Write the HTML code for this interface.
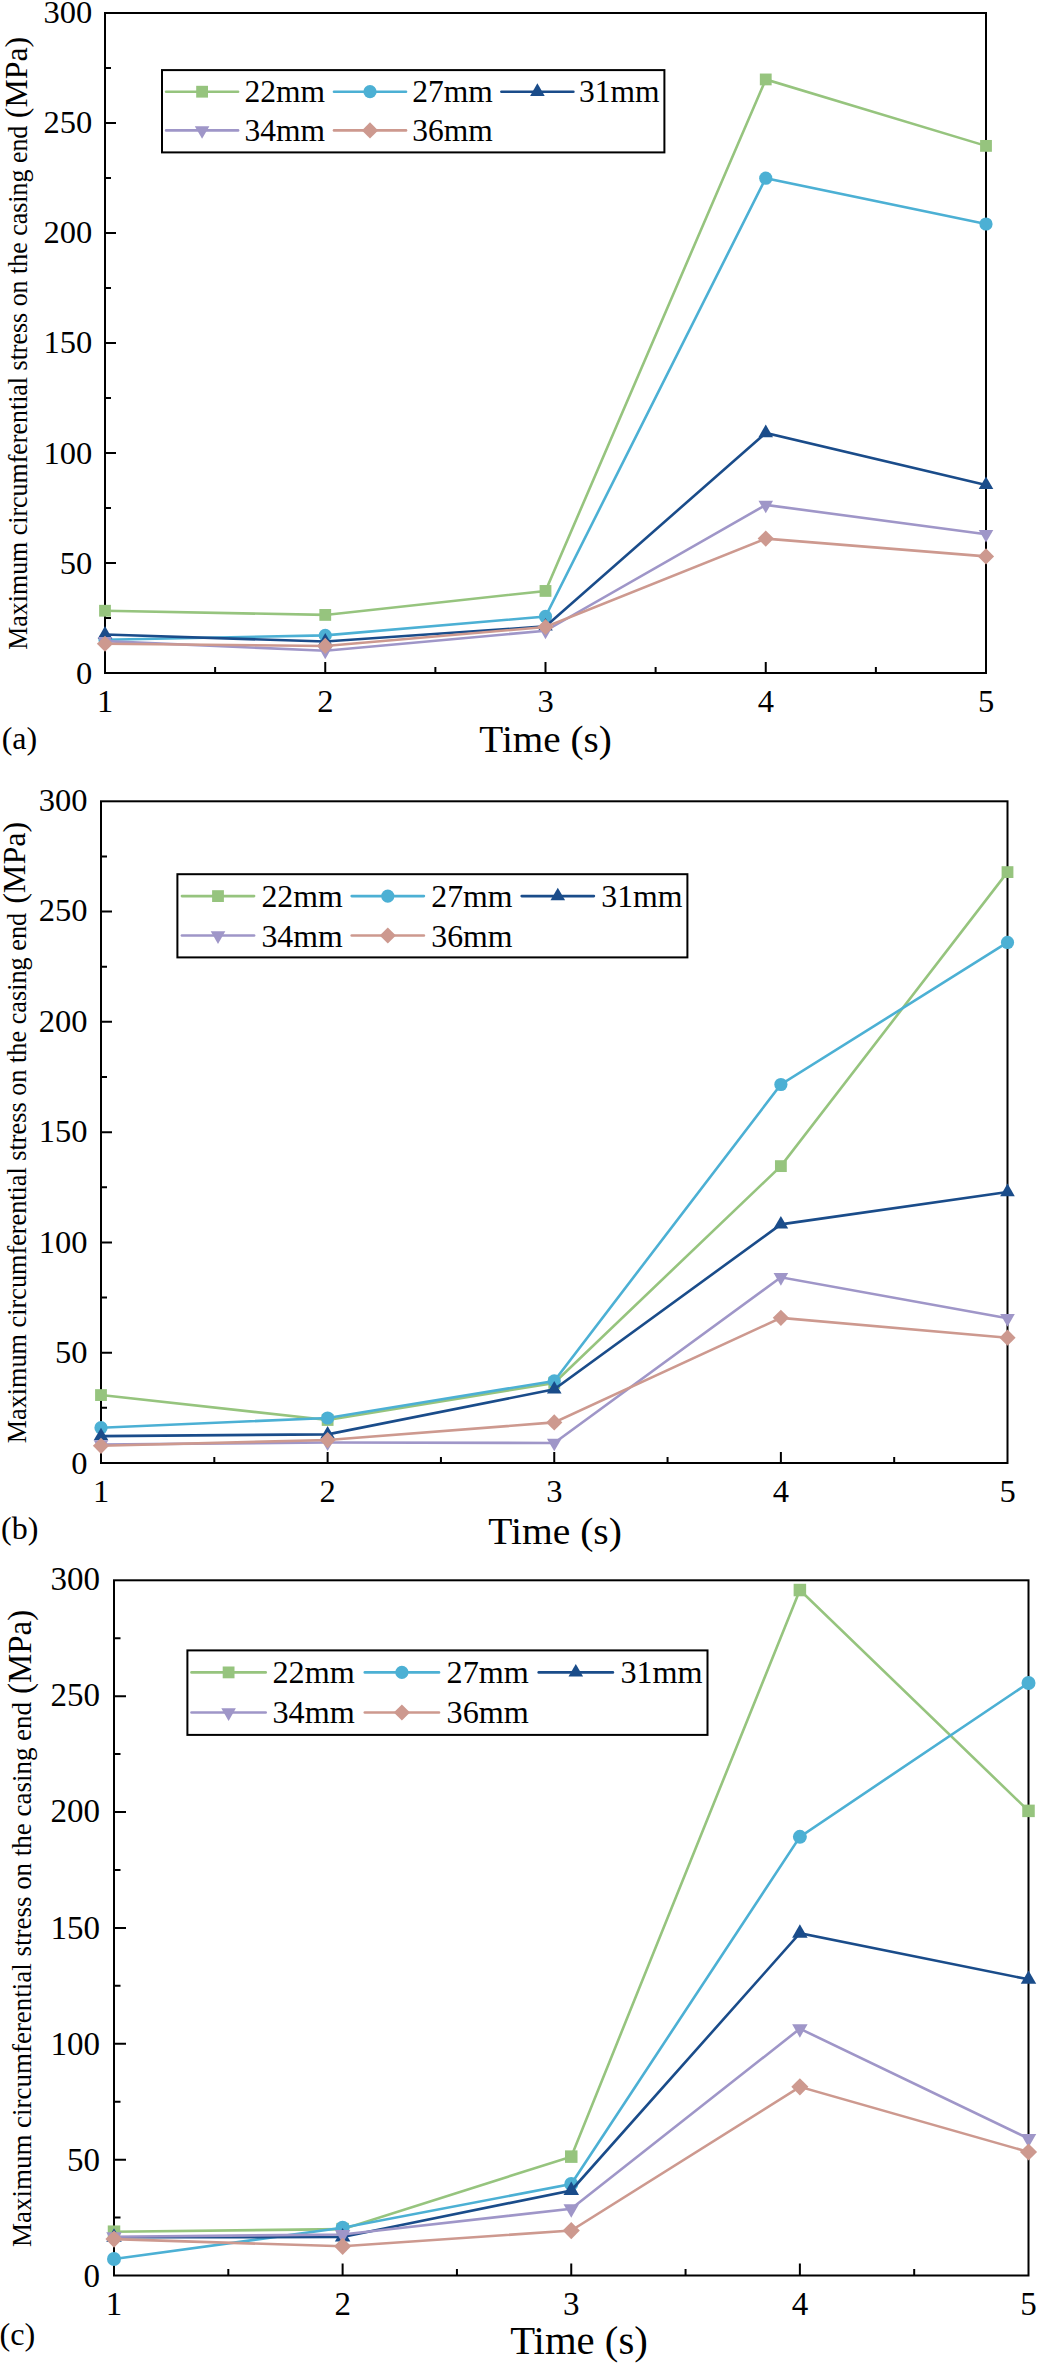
<!DOCTYPE html>
<html><head><meta charset="utf-8"><style>
html,body{margin:0;padding:0;background:#fff;overflow:hidden;width:1038px;height:2363px;}
svg{display:block;}
text{font-family:"Liberation Serif", serif;fill:#000;}
</style></head><body>
<svg width="1038" height="2363" viewBox="0 0 1038 2363">
<rect width="1038" height="2363" fill="#fff"/>
<g><rect x="105" y="13" width="881" height="660" fill="none" stroke="#000" stroke-width="2"/>
<path d="M105 618h6M105 563h11M105 508h6M105 453h11M105 398h6M105 343h11M105 288h6M105 233h11M105 178h6M105 123h11M105 68h6M215.12 673v-6M325.25 673v-11M435.38 673v-6M545.5 673v-11M655.62 673v-6M765.75 673v-11M875.88 673v-6" stroke="#000" stroke-width="2" fill="none"/>
<polyline points="105,610.74 325.25,614.92 545.5,590.94 765.75,79.44 986,145.88" fill="none" stroke="#96C47E" stroke-width="2.6" stroke-linejoin="miter"/>
<rect x="99.1" y="604.84" width="11.8" height="11.8" fill="#96C47E"/>
<rect x="319.35" y="609.02" width="11.8" height="11.8" fill="#96C47E"/>
<rect x="539.6" y="585.04" width="11.8" height="11.8" fill="#96C47E"/>
<rect x="759.85" y="73.54" width="11.8" height="11.8" fill="#96C47E"/>
<rect x="980.1" y="139.98" width="11.8" height="11.8" fill="#96C47E"/>
<polyline points="105,639.78 325.25,635.38 545.5,616.46 765.75,178.22 986,223.98" fill="none" stroke="#4CB0D4" stroke-width="2.6" stroke-linejoin="miter"/>
<circle cx="105" cy="639.78" r="6.6" fill="#4CB0D4"/>
<circle cx="325.25" cy="635.38" r="6.6" fill="#4CB0D4"/>
<circle cx="545.5" cy="616.46" r="6.6" fill="#4CB0D4"/>
<circle cx="765.75" cy="178.22" r="6.6" fill="#4CB0D4"/>
<circle cx="986" cy="223.98" r="6.6" fill="#4CB0D4"/>
<polyline points="105,634.5 325.25,641.54 545.5,626.36 765.75,432.98 986,484.9" fill="none" stroke="#1A4C8A" stroke-width="2.6" stroke-linejoin="miter"/>
<polygon points="105,626.07 112.3,638.71 97.7,638.71" fill="#1A4C8A"/>
<polygon points="325.25,633.11 332.55,645.75 317.95,645.75" fill="#1A4C8A"/>
<polygon points="545.5,617.93 552.8,630.57 538.2,630.57" fill="#1A4C8A"/>
<polygon points="765.75,424.55 773.05,437.19 758.45,437.19" fill="#1A4C8A"/>
<polygon points="986,476.47 993.3,489.11 978.7,489.11" fill="#1A4C8A"/>
<polyline points="105,641.1 325.25,650.78 545.5,630.76 765.75,504.92 986,534.18" fill="none" stroke="#9F96C8" stroke-width="2.6" stroke-linejoin="miter"/>
<polygon points="105,649.53 112.3,636.89 97.7,636.89" fill="#9F96C8"/>
<polygon points="325.25,659.21 332.55,646.57 317.95,646.57" fill="#9F96C8"/>
<polygon points="545.5,639.19 552.8,626.55 538.2,626.55" fill="#9F96C8"/>
<polygon points="765.75,513.35 773.05,500.71 758.45,500.71" fill="#9F96C8"/>
<polygon points="986,542.61 993.3,529.97 978.7,529.97" fill="#9F96C8"/>
<polyline points="105,643.74 325.25,645.94 545.5,627.02 765.75,538.58 986,556.4" fill="none" stroke="#CD998F" stroke-width="2.6" stroke-linejoin="miter"/>
<polygon points="105,635.64 113.1,643.74 105,651.84 96.9,643.74" fill="#CD998F"/>
<polygon points="325.25,637.84 333.35,645.94 325.25,654.04 317.15,645.94" fill="#CD998F"/>
<polygon points="545.5,618.92 553.6,627.02 545.5,635.12 537.4,627.02" fill="#CD998F"/>
<polygon points="765.75,530.48 773.85,538.58 765.75,546.68 757.65,538.58" fill="#CD998F"/>
<polygon points="986,548.3 994.1,556.4 986,564.5 977.9,556.4" fill="#CD998F"/>
<text x="92.2" y="683.95" font-size="32.5" text-anchor="end">0</text>
<text x="92.2" y="573.76" font-size="32.5" text-anchor="end">50</text>
<text x="92.2" y="463.57" font-size="32.5" text-anchor="end">100</text>
<text x="92.2" y="353.38" font-size="32.5" text-anchor="end">150</text>
<text x="92.2" y="243.18" font-size="32.5" text-anchor="end">200</text>
<text x="92.2" y="132.99" font-size="32.5" text-anchor="end">250</text>
<text x="92.2" y="22.8" font-size="32.5" text-anchor="end">300</text>
<text x="105.1" y="711.9" font-size="32.5" text-anchor="middle">1</text>
<text x="325.35" y="711.9" font-size="32.5" text-anchor="middle">2</text>
<text x="545.6" y="711.9" font-size="32.5" text-anchor="middle">3</text>
<text x="765.85" y="711.9" font-size="32.5" text-anchor="middle">4</text>
<text x="986.1" y="711.9" font-size="32.5" text-anchor="middle">5</text>
<text x="479.39" y="751.8" font-size="37.5" textLength="132.47" lengthAdjust="spacingAndGlyphs">Time (s)</text>
<text x="1.66" y="748.5" font-size="32">(a)</text>
<text transform="translate(26.9,649.73) rotate(-90)" font-size="27.5" textLength="524.04" lengthAdjust="spacingAndGlyphs">Maximum circumferential stress on the casing end</text>
<text transform="translate(26.7,118.14) rotate(-90)" font-size="31.8" textLength="81.31" lengthAdjust="spacingAndGlyphs">(MPa)</text>
<rect x="162" y="70.1" width="502.4" height="82.3" fill="#fff" stroke="#000" stroke-width="2"/>
<line x1="166.1" y1="91.7" x2="238.1" y2="91.7" stroke="#96C47E" stroke-width="2.6" stroke-linecap="round"/>
<rect x="196.2" y="85.8" width="11.8" height="11.8" fill="#96C47E"/>
<text x="244.41" y="101.8" font-size="31.5">22mm</text>
<line x1="334" y1="91.7" x2="406" y2="91.7" stroke="#4CB0D4" stroke-width="2.6" stroke-linecap="round"/>
<circle cx="370" cy="91.7" r="6.6" fill="#4CB0D4"/>
<text x="412.21" y="101.8" font-size="31.5">27mm</text>
<line x1="501.4" y1="91.7" x2="573.4" y2="91.7" stroke="#1A4C8A" stroke-width="2.6" stroke-linecap="round"/>
<polygon points="537.4,83.27 544.7,95.91 530.1,95.91" fill="#1A4C8A"/>
<text x="579.11" y="101.8" font-size="31.5">31mm</text>
<line x1="166.1" y1="130.4" x2="238.1" y2="130.4" stroke="#9F96C8" stroke-width="2.6" stroke-linecap="round"/>
<polygon points="202.1,138.83 209.4,126.19 194.8,126.19" fill="#9F96C8"/>
<text x="244.41" y="141.3" font-size="31.5">34mm</text>
<line x1="334" y1="130.4" x2="406" y2="130.4" stroke="#CD998F" stroke-width="2.6" stroke-linecap="round"/>
<polygon points="370,122.3 378.1,130.4 370,138.5 361.9,130.4" fill="#CD998F"/>
<text x="412.21" y="141.3" font-size="31.5">36mm</text></g>
<g><rect x="101" y="801.3" width="906.5" height="661.7" fill="none" stroke="#000" stroke-width="2"/>
<path d="M101 1407.86h6M101 1352.72h11M101 1297.58h6M101 1242.43h11M101 1187.29h6M101 1132.15h11M101 1077.01h6M101 1021.87h11M101 966.73h6M101 911.58h11M101 856.44h6M214.31 1463v-6M327.62 1463v-11M440.94 1463v-6M554.25 1463v-11M667.56 1463v-6M780.88 1463v-11M894.19 1463v-6" stroke="#000" stroke-width="2" fill="none"/>
<polyline points="101,1395.07 327.62,1419.99 554.25,1382.93 780.88,1166.12 1007.5,872.1" fill="none" stroke="#96C47E" stroke-width="2.6" stroke-linejoin="miter"/>
<rect x="95.1" y="1389.17" width="11.8" height="11.8" fill="#96C47E"/>
<rect x="321.73" y="1414.09" width="11.8" height="11.8" fill="#96C47E"/>
<rect x="548.35" y="1377.03" width="11.8" height="11.8" fill="#96C47E"/>
<rect x="774.98" y="1160.22" width="11.8" height="11.8" fill="#96C47E"/>
<rect x="1001.6" y="866.2" width="11.8" height="11.8" fill="#96C47E"/>
<polyline points="101,1427.71 327.62,1418 554.25,1380.95 780.88,1084.51 1007.5,942.46" fill="none" stroke="#4CB0D4" stroke-width="2.6" stroke-linejoin="miter"/>
<circle cx="101" cy="1427.71" r="6.6" fill="#4CB0D4"/>
<circle cx="327.62" cy="1418" r="6.6" fill="#4CB0D4"/>
<circle cx="554.25" cy="1380.95" r="6.6" fill="#4CB0D4"/>
<circle cx="780.88" cy="1084.51" r="6.6" fill="#4CB0D4"/>
<circle cx="1007.5" cy="942.46" r="6.6" fill="#4CB0D4"/>
<polyline points="101,1436.09 327.62,1434.33 554.25,1389.33 780.88,1224.35 1007.5,1191.92" fill="none" stroke="#1A4C8A" stroke-width="2.6" stroke-linejoin="miter"/>
<polygon points="101,1427.66 108.3,1440.31 93.7,1440.31" fill="#1A4C8A"/>
<polygon points="327.62,1425.9 334.93,1438.54 320.32,1438.54" fill="#1A4C8A"/>
<polygon points="554.25,1380.9 561.55,1393.55 546.95,1393.55" fill="#1A4C8A"/>
<polygon points="780.88,1215.92 788.17,1228.56 773.58,1228.56" fill="#1A4C8A"/>
<polygon points="1007.5,1183.49 1014.8,1196.14 1000.2,1196.14" fill="#1A4C8A"/>
<polyline points="101,1444.47 327.62,1442.49 554.25,1442.93 780.88,1277.28 1007.5,1318.31" fill="none" stroke="#9F96C8" stroke-width="2.6" stroke-linejoin="miter"/>
<polygon points="101,1452.9 108.3,1440.26 93.7,1440.26" fill="#9F96C8"/>
<polygon points="327.62,1450.92 334.93,1438.27 320.32,1438.27" fill="#9F96C8"/>
<polygon points="554.25,1451.36 561.55,1438.71 546.95,1438.71" fill="#9F96C8"/>
<polygon points="780.88,1285.71 788.17,1273.07 773.58,1273.07" fill="#9F96C8"/>
<polygon points="1007.5,1326.74 1014.8,1314.09 1000.2,1314.09" fill="#9F96C8"/>
<polyline points="101,1445.8 327.62,1440.06 554.25,1422.42 780.88,1317.87 1007.5,1337.72" fill="none" stroke="#CD998F" stroke-width="2.6" stroke-linejoin="miter"/>
<polygon points="101,1437.7 109.1,1445.8 101,1453.9 92.9,1445.8" fill="#CD998F"/>
<polygon points="327.62,1431.96 335.73,1440.06 327.62,1448.16 319.52,1440.06" fill="#CD998F"/>
<polygon points="554.25,1414.32 562.35,1422.42 554.25,1430.52 546.15,1422.42" fill="#CD998F"/>
<polygon points="780.88,1309.77 788.98,1317.87 780.88,1325.97 772.77,1317.87" fill="#CD998F"/>
<polygon points="1007.5,1329.62 1015.6,1337.72 1007.5,1345.82 999.4,1337.72" fill="#CD998F"/>
<text x="87.5" y="1473.95" font-size="32.5" text-anchor="end">0</text>
<text x="87.5" y="1363.38" font-size="32.5" text-anchor="end">50</text>
<text x="87.5" y="1252.82" font-size="32.5" text-anchor="end">100</text>
<text x="87.5" y="1142.25" font-size="32.5" text-anchor="end">150</text>
<text x="87.5" y="1031.68" font-size="32.5" text-anchor="end">200</text>
<text x="87.5" y="921.12" font-size="32.5" text-anchor="end">250</text>
<text x="87.5" y="810.55" font-size="32.5" text-anchor="end">300</text>
<text x="101.1" y="1502" font-size="32.5" text-anchor="middle">1</text>
<text x="327.73" y="1502" font-size="32.5" text-anchor="middle">2</text>
<text x="554.35" y="1502" font-size="32.5" text-anchor="middle">3</text>
<text x="780.98" y="1502" font-size="32.5" text-anchor="middle">4</text>
<text x="1007.6" y="1502" font-size="32.5" text-anchor="middle">5</text>
<text x="488.29" y="1543.7" font-size="38.2" textLength="133.59" lengthAdjust="spacingAndGlyphs">Time (s)</text>
<text x="1.06" y="1538.5" font-size="32">(b)</text>
<text transform="translate(25.5,1443.33) rotate(-90)" font-size="27" textLength="530.46" lengthAdjust="spacingAndGlyphs">Maximum circumferential stress on the casing end</text>
<text transform="translate(25,903.85) rotate(-90)" font-size="32" textLength="82.14" lengthAdjust="spacingAndGlyphs">(MPa)</text>
<rect x="177.4" y="874.2" width="510" height="83.2" fill="#fff" stroke="#000" stroke-width="2"/>
<line x1="181.9" y1="896.1" x2="254.1" y2="896.1" stroke="#96C47E" stroke-width="2.6" stroke-linecap="round"/>
<rect x="212.1" y="890.2" width="11.8" height="11.8" fill="#96C47E"/>
<text x="261.4" y="907.2" font-size="31.8">22mm</text>
<line x1="351.7" y1="896.1" x2="423.9" y2="896.1" stroke="#4CB0D4" stroke-width="2.6" stroke-linecap="round"/>
<circle cx="387.8" cy="896.1" r="6.6" fill="#4CB0D4"/>
<text x="431.3" y="907.2" font-size="31.8">27mm</text>
<line x1="521.7" y1="896.1" x2="593.9" y2="896.1" stroke="#1A4C8A" stroke-width="2.6" stroke-linecap="round"/>
<polygon points="557.8,887.67 565.1,900.31 550.5,900.31" fill="#1A4C8A"/>
<text x="601.3" y="907.2" font-size="31.8">31mm</text>
<line x1="181.9" y1="935.5" x2="254.1" y2="935.5" stroke="#9F96C8" stroke-width="2.6" stroke-linecap="round"/>
<polygon points="218,943.93 225.3,931.29 210.7,931.29" fill="#9F96C8"/>
<text x="261.4" y="946.7" font-size="31.8">34mm</text>
<line x1="351.7" y1="935.5" x2="423.9" y2="935.5" stroke="#CD998F" stroke-width="2.6" stroke-linecap="round"/>
<polygon points="387.8,927.4 395.9,935.5 387.8,943.6 379.7,935.5" fill="#CD998F"/>
<text x="431.3" y="946.7" font-size="31.8">36mm</text></g>
<g><rect x="114" y="1580.3" width="914.5" height="695.2" fill="none" stroke="#000" stroke-width="2"/>
<path d="M114 2217.57h6.5M114 2159.63h12M114 2101.7h6.5M114 2043.77h12M114 1985.83h6.5M114 1927.9h12M114 1869.97h6.5M114 1812.03h12M114 1754.1h6.5M114 1696.17h12M114 1638.23h6.5M228.31 2275.5v-6.5M342.62 2275.5v-12M456.94 2275.5v-6.5M571.25 2275.5v-12M685.56 2275.5v-6.5M799.88 2275.5v-12M914.19 2275.5v-6.5" stroke="#000" stroke-width="2" fill="none"/>
<polyline points="114,2231.7 342.62,2229.15 571.25,2156.62 799.88,1590.03 1028.5,1810.87" fill="none" stroke="#96C47E" stroke-width="2.6" stroke-linejoin="miter"/>
<rect x="107.75" y="2225.45" width="12.51" height="12.51" fill="#96C47E"/>
<rect x="336.37" y="2222.9" width="12.51" height="12.51" fill="#96C47E"/>
<rect x="565" y="2150.37" width="12.51" height="12.51" fill="#96C47E"/>
<rect x="793.62" y="1583.78" width="12.51" height="12.51" fill="#96C47E"/>
<rect x="1022.25" y="1804.62" width="12.51" height="12.51" fill="#96C47E"/>
<polyline points="114,2259.05 342.62,2227.76 571.25,2183.97 799.88,1836.83 1028.5,1682.96" fill="none" stroke="#4CB0D4" stroke-width="2.6" stroke-linejoin="miter"/>
<circle cx="114" cy="2259.05" r="7" fill="#4CB0D4"/>
<circle cx="342.62" cy="2227.76" r="7" fill="#4CB0D4"/>
<circle cx="571.25" cy="2183.97" r="7" fill="#4CB0D4"/>
<circle cx="799.88" cy="1836.83" r="7" fill="#4CB0D4"/>
<circle cx="1028.5" cy="1682.96" r="7" fill="#4CB0D4"/>
<polyline points="114,2237.26 342.62,2237.03 571.25,2190.45 799.88,1933.23 1028.5,1979.34" fill="none" stroke="#1A4C8A" stroke-width="2.6" stroke-linejoin="miter"/>
<polygon points="114,2228.33 121.74,2241.73 106.26,2241.73" fill="#1A4C8A"/>
<polygon points="342.62,2228.1 350.36,2241.5 334.89,2241.5" fill="#1A4C8A"/>
<polygon points="571.25,2181.52 578.99,2194.92 563.51,2194.92" fill="#1A4C8A"/>
<polygon points="799.88,1924.29 807.61,1937.7 792.14,1937.7" fill="#1A4C8A"/>
<polygon points="1028.5,1970.41 1036.24,1983.81 1020.76,1983.81" fill="#1A4C8A"/>
<polyline points="114,2236.8 342.62,2234.48 571.25,2208.76 799.88,2028.7 1028.5,2138.55" fill="none" stroke="#9F96C8" stroke-width="2.6" stroke-linejoin="miter"/>
<polygon points="114,2245.74 121.74,2232.33 106.26,2232.33" fill="#9F96C8"/>
<polygon points="342.62,2243.42 350.36,2230.02 334.89,2230.02" fill="#9F96C8"/>
<polygon points="571.25,2217.7 578.99,2204.29 563.51,2204.29" fill="#9F96C8"/>
<polygon points="799.88,2037.64 807.61,2024.24 792.14,2024.24" fill="#9F96C8"/>
<polygon points="1028.5,2147.48 1036.24,2134.08 1020.76,2134.08" fill="#9F96C8"/>
<polyline points="114,2239.12 342.62,2246.3 571.25,2230.54 799.88,2086.87 1028.5,2151.99" fill="none" stroke="#CD998F" stroke-width="2.6" stroke-linejoin="miter"/>
<polygon points="114,2230.53 122.59,2239.12 114,2247.7 105.41,2239.12" fill="#CD998F"/>
<polygon points="342.62,2237.72 351.21,2246.3 342.62,2254.89 334.04,2246.3" fill="#CD998F"/>
<polygon points="571.25,2221.96 579.84,2230.54 571.25,2239.13 562.66,2230.54" fill="#CD998F"/>
<polygon points="799.88,2078.28 808.46,2086.87 799.88,2095.46 791.29,2086.87" fill="#CD998F"/>
<polygon points="1028.5,2143.4 1037.09,2151.99 1028.5,2160.57 1019.91,2151.99" fill="#CD998F"/>
<text x="100.1" y="2287.4" font-size="33" text-anchor="end">0</text>
<text x="100.1" y="2171.17" font-size="33" text-anchor="end">50</text>
<text x="100.1" y="2054.93" font-size="33" text-anchor="end">100</text>
<text x="100.1" y="1938.7" font-size="33" text-anchor="end">150</text>
<text x="100.1" y="1822.47" font-size="33" text-anchor="end">200</text>
<text x="100.1" y="1706.23" font-size="33" text-anchor="end">250</text>
<text x="100.1" y="1590" font-size="33" text-anchor="end">300</text>
<text x="114.1" y="2315.3" font-size="33" text-anchor="middle">1</text>
<text x="342.73" y="2315.3" font-size="33" text-anchor="middle">2</text>
<text x="571.35" y="2315.3" font-size="33" text-anchor="middle">3</text>
<text x="799.98" y="2315.3" font-size="33" text-anchor="middle">4</text>
<text x="1028.6" y="2315.3" font-size="33" text-anchor="middle">5</text>
<text x="510.17" y="2353.7" font-size="39.5" textLength="137.66" lengthAdjust="spacingAndGlyphs">Time (s)</text>
<text x="-0.56" y="2344.9" font-size="32.3">(c)</text>
<text transform="translate(30.9,2246.95) rotate(-90)" font-size="28.3" textLength="544.99" lengthAdjust="spacingAndGlyphs">Maximum circumferential stress on the casing end</text>
<text transform="translate(30.6,1694.09) rotate(-90)" font-size="33" textLength="84.31" lengthAdjust="spacingAndGlyphs">(MPa)</text>
<rect x="187.4" y="1650.4" width="520.1" height="84.5" fill="#fff" stroke="#000" stroke-width="2"/>
<line x1="191.5" y1="1672.4" x2="265.7" y2="1672.4" stroke="#96C47E" stroke-width="2.6" stroke-linecap="round"/>
<rect x="222.7" y="1666.5" width="11.8" height="11.8" fill="#96C47E"/>
<text x="272.48" y="1683.3" font-size="32.2">22mm</text>
<line x1="364.8" y1="1672.4" x2="439" y2="1672.4" stroke="#4CB0D4" stroke-width="2.6" stroke-linecap="round"/>
<circle cx="401.9" cy="1672.4" r="6.6" fill="#4CB0D4"/>
<text x="446.58" y="1683.3" font-size="32.2">27mm</text>
<line x1="538.7" y1="1672.4" x2="612.9" y2="1672.4" stroke="#1A4C8A" stroke-width="2.6" stroke-linecap="round"/>
<polygon points="575.8,1663.97 583.1,1676.61 568.5,1676.61" fill="#1A4C8A"/>
<text x="620.38" y="1683.3" font-size="32.2">31mm</text>
<line x1="191.5" y1="1712.5" x2="265.7" y2="1712.5" stroke="#9F96C8" stroke-width="2.6" stroke-linecap="round"/>
<polygon points="228.6,1720.93 235.9,1708.29 221.3,1708.29" fill="#9F96C8"/>
<text x="272.48" y="1723.4" font-size="32.2">34mm</text>
<line x1="364.8" y1="1712.5" x2="439" y2="1712.5" stroke="#CD998F" stroke-width="2.6" stroke-linecap="round"/>
<polygon points="401.9,1704.4 410,1712.5 401.9,1720.6 393.8,1712.5" fill="#CD998F"/>
<text x="446.58" y="1723.4" font-size="32.2">36mm</text></g>
</svg>
</body></html>
